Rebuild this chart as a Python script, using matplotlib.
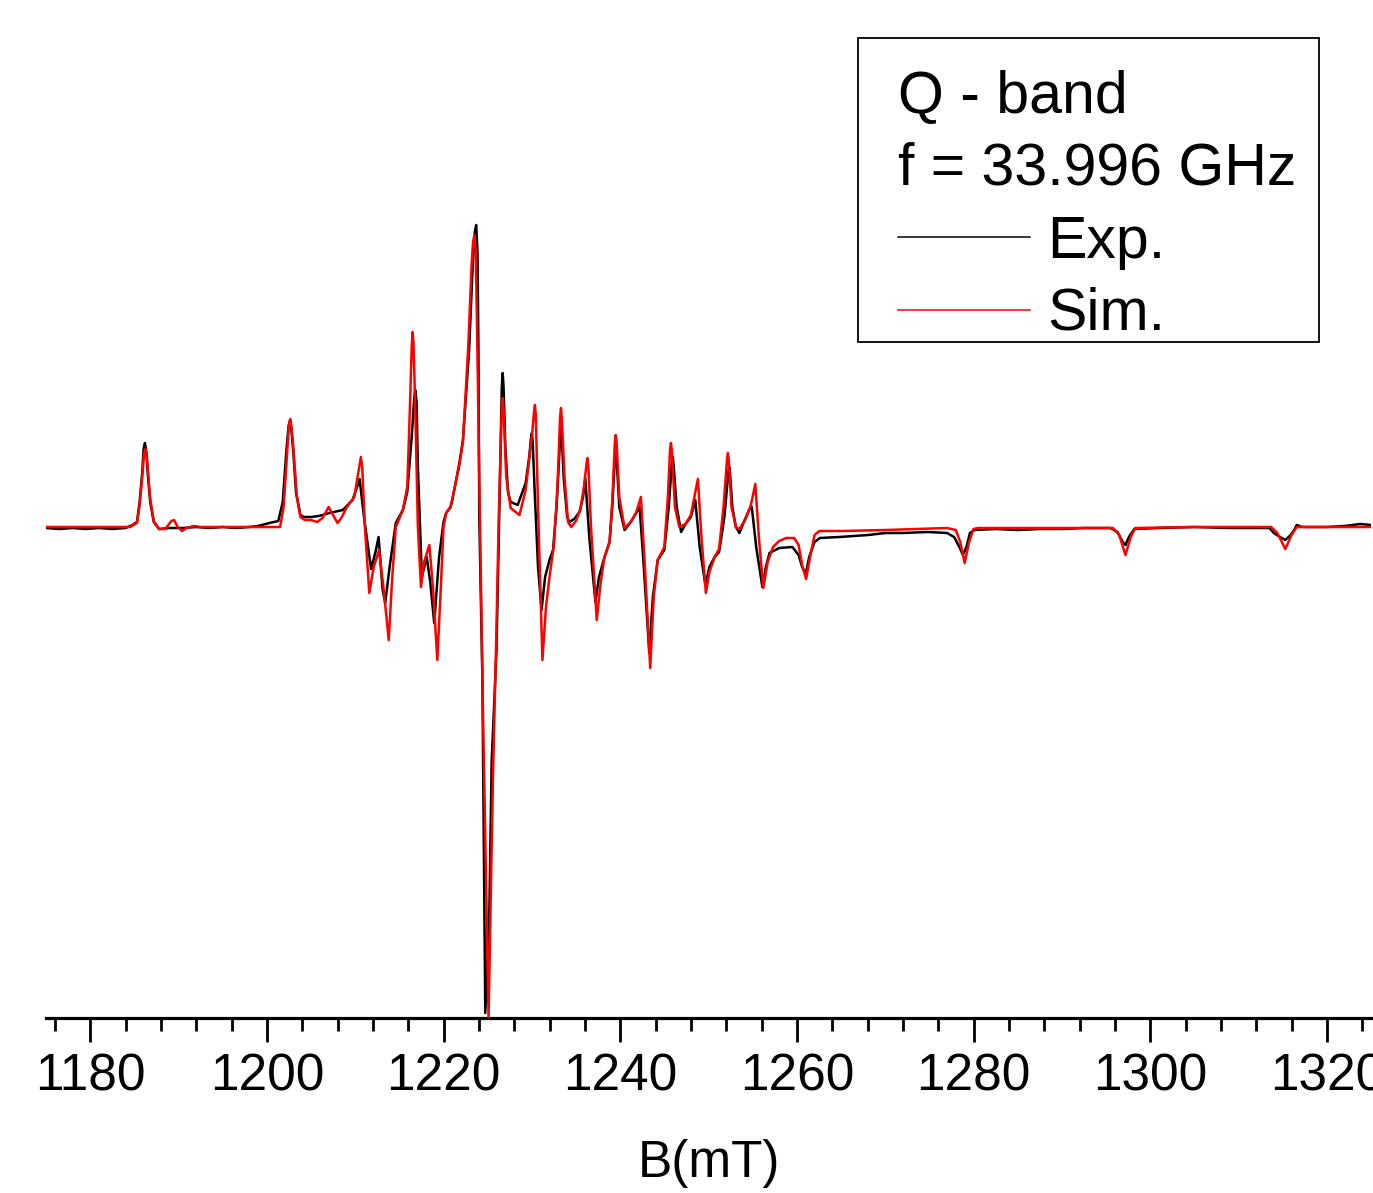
import matplotlib
matplotlib.use("Agg")
import matplotlib.pyplot as plt
from matplotlib.patches import Rectangle
from matplotlib.lines import Line2D
from matplotlib.ticker import MultipleLocator

plt.rcParams['font.family'] = ['Liberation Sans', 'DejaVu Sans']

# ---------------- data (B in mT, intensity in arbitrary units) ----------------
exp_B = [1175.0, 1176.5, 1178.0, 1179.5, 1181.0, 1182.5, 1184.0, 1184.8, 1185.3, 1185.6, 1185.9, 1186.05,
         1186.2, 1186.35, 1186.55, 1186.8, 1187.2, 1187.8, 1189.0, 1190.5, 1192.0, 1193.5, 1195.0, 1196.5,
         1198.0, 1199.0, 1200.3, 1201.3, 1201.8, 1202.2, 1202.45, 1202.6, 1202.75, 1203.0, 1203.3, 1203.8,
         1204.2, 1205.0, 1205.9, 1207.1, 1208.6, 1209.7, 1210.3, 1210.5, 1211.0, 1211.8, 1212.3, 1212.65,
         1213.0, 1213.1, 1213.4, 1213.9, 1214.6, 1215.4, 1215.9, 1216.4, 1216.7, 1216.8, 1216.95, 1217.1,
         1217.55, 1218.1, 1218.5, 1218.95, 1219.5, 1220.0, 1220.3, 1220.8, 1221.0, 1221.8, 1222.2, 1222.9,
         1223.3, 1223.55, 1223.7, 1223.85, 1223.95, 1224.05, 1224.4, 1224.73, 1225.2, 1225.45, 1225.55,
         1226.0, 1226.3, 1226.6, 1226.7, 1226.8, 1227.0, 1227.3, 1227.6, 1228.4, 1229.3, 1229.7, 1229.9,
         1230.0, 1230.1, 1230.3, 1230.7, 1231.1, 1231.5, 1232.0, 1232.4, 1232.8, 1233.2, 1233.3, 1233.4,
         1233.6, 1234.0, 1234.25, 1234.8, 1235.4, 1235.8, 1236.05, 1236.5, 1237.2, 1237.6, 1238.2, 1238.8,
         1239.1, 1239.4, 1239.5, 1239.6, 1239.9, 1240.5, 1241.2, 1241.8, 1242.2, 1242.6, 1243.3, 1243.7,
         1244.25, 1245.0, 1245.5, 1245.85, 1245.95, 1246.05, 1246.4, 1246.9, 1247.4, 1248.0, 1248.5, 1249.0,
         1249.65, 1250.1, 1250.7, 1251.2, 1251.8, 1252.25, 1252.35, 1252.45, 1252.7, 1253.1, 1253.5,
         1254.0, 1254.6, 1254.9, 1255.4, 1256.1, 1256.5, 1256.9, 1258.0, 1259.5, 1260.2, 1260.6, 1261.0,
         1261.4, 1262.0, 1262.6, 1264.8, 1266.5, 1268.1, 1270.0, 1272.0, 1274.8, 1277.0, 1277.8, 1278.4,
         1278.8, 1279.2, 1279.6, 1280.1, 1282.5, 1285.0, 1287.5, 1290.0, 1292.5, 1295.5, 1296.3, 1296.9,
         1297.2, 1297.6, 1298.2, 1301.0, 1305.0, 1309.0, 1313.5, 1314.0, 1314.7, 1315.3, 1315.9, 1316.3,
         1316.6, 1317.2, 1320.0, 1322.0, 1323.8, 1325.0]
exp_I = [-1, -2, -1, -2, -1, -2, -1, 2, 5, 25, 55, 78,
         84, 76, 50, 25, 5, -2, -1, -1, 0, -1, 0, -1,
         0, 1, 4, 6, 25, 75, 100, 106, 100, 75, 35, 12,
         10, 10, 11, 14, 17, 27, 42, 48, 10, -42, -25, -10,
         -50, -62, -76, -40, 4, 17, 35, 90, 130, 137, 125, 60,
         -50, -30, -55, -96, -30, 5, 14, 20, 27, 64, 87, 177,
         260, 295, 302, 275, 180, 10, -150, -486, -380, -235, -215,
         -123, 7, 140, 154, 140, 80, 35, 25, 22, 44, 70, 88,
         94, 85, 40, -40, -83, -50, -33, -23, 20, 88, 99, 90,
         50, 10, 5, 8, 15, 30, 49, -10, -75, -50, -31, -15,
         20, 68, 75, 68, 20, -3, 5, 14, 20, -30, -126, -70,
         -33, -23, 20, 64, 70, 62, 20, -5, 3, 10, 27, -20,
         -58, -40, -30, -25, 10, 55, 60, 52, 20, 0, -6,
         5, 17, 20, -20, -60, -40, -26, -21, -20, -28, -40, -47,
         -30, -15, -11, -10, -9, -8, -6, -6, -5, -6, -10, -20,
         -28, -20, -6, -3, -2, -3, -2, -2, -1, -1, -5, -15,
         -18, -10, -2, -1, 0, -1, -1, -6, -10, -13, -8, -3,
         2, 0, 0, 1, 3, 2]

sim_B = [1175.0, 1184.5, 1185.3, 1185.6, 1185.9, 1186.1, 1186.25, 1186.4, 1186.6, 1186.8, 1187.2, 1187.8,
         1188.5, 1189.2, 1189.5, 1189.9, 1190.4, 1190.9, 1191.7, 1192.5, 1201.5, 1201.9, 1202.3, 1202.5,
         1202.65, 1202.8, 1203.0, 1203.4, 1203.8, 1204.3, 1205.0, 1205.7, 1206.3, 1207.0, 1207.5, 1208.0,
         1208.5, 1209.0, 1209.9, 1210.5, 1210.65, 1210.8, 1211.1, 1211.6, 1212.1, 1212.7, 1213.2, 1213.8,
         1214.2, 1214.6, 1215.4, 1215.9, 1216.2, 1216.4, 1216.5, 1216.6, 1216.8, 1217.1, 1217.45, 1217.8,
         1218.4, 1218.8, 1219.3, 1219.7, 1220.0, 1220.3, 1220.8, 1221.8, 1222.2, 1222.8, 1223.2, 1223.35,
         1223.5, 1223.65, 1223.8, 1224.1, 1224.5, 1225.1, 1225.6, 1226.0, 1226.25, 1226.6, 1226.7, 1226.8,
         1227.1, 1227.6, 1228.6, 1229.3, 1230.0, 1230.25, 1230.35, 1230.45, 1230.7, 1231.2, 1231.6, 1232.0,
         1232.5, 1232.9, 1233.2, 1233.3, 1233.4, 1233.7, 1234.1, 1234.45, 1235.0, 1235.5, 1235.9, 1236.2,
         1236.3, 1236.4, 1236.7, 1237.35, 1237.8, 1238.2, 1238.8, 1239.1, 1239.4, 1239.5, 1239.6, 1239.9,
         1240.5, 1241.2, 1241.8, 1242.35, 1242.8, 1243.4, 1243.8, 1244.25, 1245.0, 1245.4, 1245.65, 1245.75,
         1245.85, 1246.2, 1246.7, 1247.4, 1248.0, 1248.4, 1248.8, 1249.2, 1249.7, 1250.1, 1250.7, 1251.2,
         1251.7, 1252.1, 1252.2, 1252.3, 1252.6, 1253.1, 1253.5, 1254.2, 1254.8, 1255.3, 1255.7, 1256.2,
         1256.7, 1257.3, 1258.0, 1258.8, 1259.7, 1260.2, 1260.6, 1261.05, 1261.5, 1262.0, 1262.55, 1265.0,
         1270.0, 1277.0, 1278.0, 1278.5, 1279.0, 1279.5, 1280.0, 1280.5, 1290.0, 1295.8, 1296.5, 1297.2,
         1297.8, 1298.3, 1305.0, 1313.7, 1314.4, 1315.3, 1316.0, 1316.6, 1325.0]
sim_I = [0, 0, 4, 22, 50, 74, 78, 72, 50, 28, 6, -2,
         -2, 6, 7, 0, -4, -1, 1, 0, 0, 20, 75, 102,
         108, 100, 80, 30, 10, 7, 7, 5, 9, 20, 12, 4,
         10, 19, 30, 62, 70, 60, 0, -66, -40, -23, -60, -113,
         -50, 0, 17, 40, 120, 180, 195, 185, 120, 0, -60, -35,
         -18, -60, -133, -60, 0, 14, 20, 62, 85, 180, 265, 285,
         292, 275, 200, 20, -200, -491, -250, -100, 7, 120, 129, 118,
         50, 19, 12, 37, 90, 115, 122, 112, 20, -133, -80, -50,
         -18, 40, 110, 119, 108, 50, 5, 0, 6, 18, 40, 64,
         69, 60, 0, -93, -55, -31, -15, 25, 85, 92, 84, 30,
         -1, 5, 14, 30, -40, -141, -70, -33, -20, 30, 78, 84,
         76, 20, 0, 3, 12, 30, 48, -10, -66, -45, -30, -22,
         20, 68, 74, 66, 20, 0, -2, 8, 22, 43, -10, -61,
         -35, -20, -14, -11, -11, -18, -38, -52, -30, -8, -4, -4,
         -3, -1, -3, -15, -36, -15, -2, -1, -1, -1, -8, -28,
         -10, -1, 0, 0, -6, -22, -8, 0, 0]

x_major = [1180, 1200, 1220, 1240, 1260, 1280, 1300, 1320]
legend_title = ["Q - band", "f = 33.996 GHz"]
series_names = ["Exp.", "Sim."]
series_colors = ["black", "#ff0000"]

# ---------------- figure ----------------
W, H, DPI = 1373, 1193, 100
fig = plt.figure(figsize=(W / DPI, H / DPI), dpi=DPI)
ax = fig.add_axes([46 / W, 1 - 1018 / H, (1371 - 46) / W, (1018 - 30) / H])

ax.plot(exp_B, exp_I, color=series_colors[0], lw=1.8, solid_joinstyle='round', zorder=2)
ax.plot(sim_B, sim_I, color=series_colors[1], lw=1.8, solid_joinstyle='round', zorder=3)

ax.set_xlim(1175, 1325)
ax.set_ylim(-491, 497)

for s in ['top', 'right', 'left']:
    ax.spines[s].set_visible(False)
ax.spines['bottom'].set_linewidth(2.3)
ax.set_yticks([])
ax.set_xticks(x_major)
ax.xaxis.set_minor_locator(MultipleLocator(4))
ax.tick_params(axis='x', which='major', direction='out', length=17, width=2.0,
               labelsize=37, pad=8)
ax.tick_params(axis='x', which='minor', direction='out', length=9, width=2.0)
ax.set_xlabel("B(mT)", fontsize=37, labelpad=27)

# ---------------- legend box (figure pixel coordinates) ----------------
def fx(px):
    return px / W

def fy(py):
    return 1 - py / H

fig.patches.append(Rectangle((fx(858), fy(342)), fx(1319) - fx(858), fy(38) - fy(342),
                             transform=fig.transFigure, fill=False, edgecolor='black',
                             linewidth=1.3, zorder=5))
fig.text(fx(898), fy(113), legend_title[0], fontsize=42.5, va='baseline', ha='left')
fig.text(fx(898), fy(185), legend_title[1], fontsize=42.5, va='baseline', ha='left')
for i, (name, col) in enumerate(zip(series_names, series_colors)):
    yl = [237, 310][i]
    yb = [258, 330][i]
    fig.lines.append(Line2D([fx(898), fx(1030)], [fy(yl), fy(yl)], transform=fig.transFigure,
                            color=col, lw=1.1))
    fig.text(fx(1047), fy(yb), name, fontsize=42.5, va='baseline', ha='left')

fig.savefig("out.png", dpi=DPI)
